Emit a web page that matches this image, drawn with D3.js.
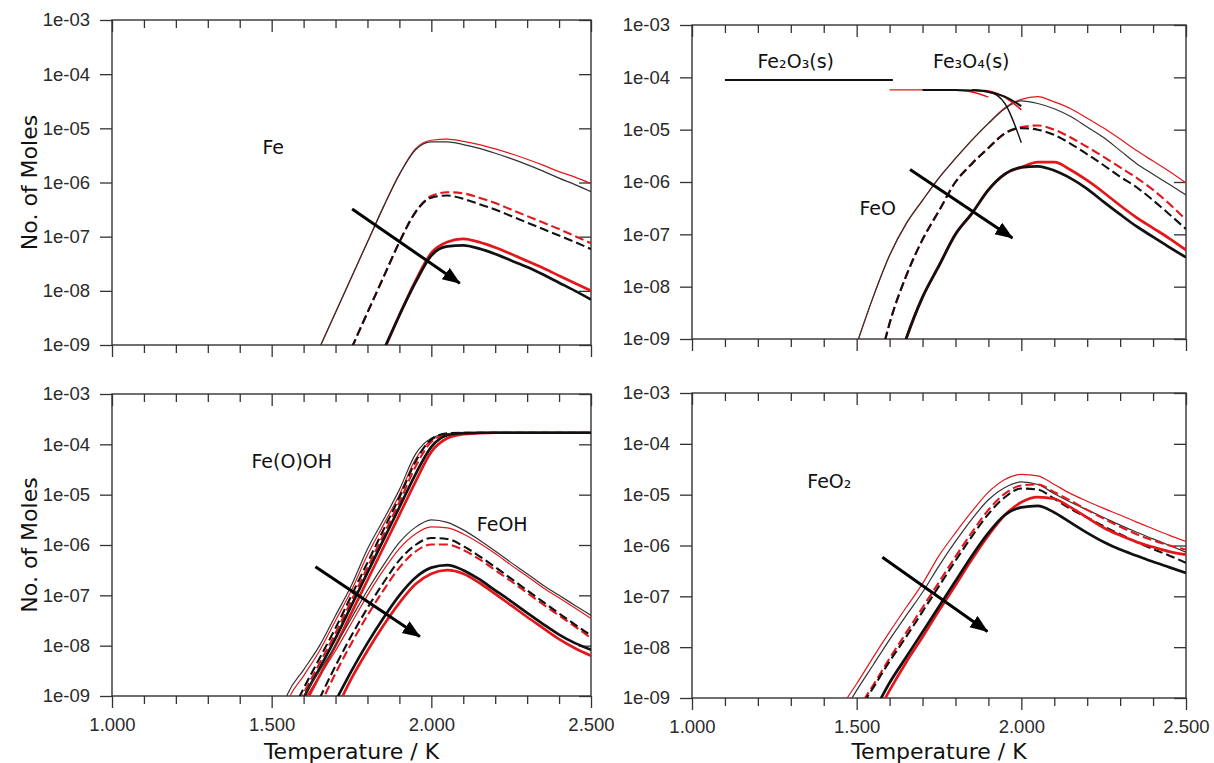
<!DOCTYPE html>
<html>
<head>
<meta charset="utf-8">
<title>Fe species vs temperature</title>
<script src="https://d3js.org/d3.v7.min.js"></script>
<style>
body { margin: 0; background: #fff; }
svg { font-family: "DejaVu Sans", Verdana, sans-serif; }
.axis text { font-size: 18.5px; fill: #2a2a2a; }
.axis line { stroke: #333; stroke-width: 1.3px; }
.axis .domain { display: none; }
.frame { fill: none; stroke: #333; stroke-width: 1.4px; }
.curve { fill: none; }
.title { font-size: 22px; fill: #111; }
.label { font-size: 19px; fill: #111; }
</style>
</head>
<body>
<script>

// Temperature grid (K) shared by all curves
var temps = [1450, 1500, 1550, 1600, 1650, 1700, 1750, 1800, 1850, 1900, 1950,
             2000, 2050, 2100, 2150, 2200, 2250, 2300, 2350, 2400, 2450, 2500];

// All values are log10(no. of moles). null = not plotted
// K = black, R = red; thin / dash / thick = the three line styles

// Fe
var feThinK  = [null,null,null,-9.7,-9.05,-8.4,-7.75,-7.1,-6.45,-5.85,-5.4,-5.25,-5.25,-5.3,-5.37,-5.46,-5.56,-5.67,-5.79,-5.92,-6.04,-6.17];
var feThinR  = [null,null,null,-9.7,-9.05,-8.4,-7.75,-7.1,-6.45,-5.85,-5.38,-5.22,-5.2,-5.24,-5.3,-5.38,-5.47,-5.57,-5.68,-5.8,-5.9,-6.02];
var feDashK  = [null,null,null,null,null,-9.7,-9.06,-8.4,-7.75,-7.1,-6.55,-6.28,-6.24,-6.3,-6.4,-6.5,-6.62,-6.74,-6.86,-6.98,-7.1,-7.23];
var feDashR  = [null,null,null,null,null,-9.7,-9.06,-8.4,-7.75,-7.1,-6.55,-6.25,-6.18,-6.2,-6.28,-6.38,-6.5,-6.62,-6.74,-6.86,-6.99,-7.12];
var feThickK = [null,null,null,null,null,null,null,-9.75,-9.1,-8.45,-7.85,-7.35,-7.18,-7.16,-7.22,-7.32,-7.44,-7.56,-7.7,-7.85,-8.0,-8.16];
var feThickR = [null,null,null,null,null,null,null,-9.8,-9.12,-8.45,-7.82,-7.3,-7.1,-7.04,-7.1,-7.2,-7.32,-7.45,-7.58,-7.72,-7.86,-8.0];

// FeO
var feoThinK  = [null,-9.1,-8.2,-7.4,-6.8,-6.35,-5.92,-5.55,-5.2,-4.88,-4.6,-4.45,-4.5,-4.6,-4.75,-4.95,-5.15,-5.4,-5.65,-5.85,-6.05,-6.25];
var feoThinR  = [null,-9.1,-8.2,-7.4,-6.8,-6.35,-5.92,-5.55,-5.2,-4.88,-4.58,-4.42,-4.37,-4.47,-4.6,-4.78,-4.97,-5.18,-5.4,-5.6,-5.8,-6.02];
var feoDashK  = [null,null,-10.0,-8.7,-7.8,-7.1,-6.55,-6.0,-5.65,-5.35,-5.07,-4.97,-5.0,-5.1,-5.27,-5.47,-5.68,-5.9,-6.1,-6.35,-6.62,-6.9];
var feoDashR  = [null,null,-10.0,-8.7,-7.8,-7.1,-6.55,-6.0,-5.65,-5.35,-5.07,-4.95,-4.92,-5.0,-5.15,-5.33,-5.52,-5.72,-5.92,-6.15,-6.42,-6.72];
var feoThickK = [null,null,null,-10.0,-9.0,-8.2,-7.6,-7.0,-6.6,-6.15,-5.85,-5.72,-5.7,-5.78,-5.93,-6.13,-6.38,-6.62,-6.85,-7.05,-7.25,-7.44];
var feoThickR = [null,null,null,-10.0,-9.0,-8.2,-7.6,-7.0,-6.6,-6.15,-5.85,-5.72,-5.62,-5.62,-5.77,-5.97,-6.2,-6.45,-6.68,-6.88,-7.08,-7.3];

// Fe2O3(s) and Fe3O4(s) branches in the FeO panel
var fe2o3Temps = [1100, 1610];
var fe2o3 = [-4.05, -4.05];
var fe3o4Temps = [1600, 1700, 1800, 1850, 1900, 1950, 2000];
var fe3o4A = [-4.24, -4.24, -4.25, -4.28, -4.38, null, null];
var fe3o4B = [null, -4.24, -4.24, -4.25, -4.28, -4.37, -4.55];
var fe3o4C = [null, null, null, -4.24, -4.27, -4.5, -5.25];
var fe3o4D = [null, null, null, -4.24, -4.26, -4.38, -4.62];

// Fe(O)OH
var feoohThinK  = [null,-10.0,-8.96,-8.48,-8.0,-7.4,-6.8,-6.08,-5.5,-4.9,-4.2,-3.88,-3.79,-3.77,-3.77,-3.77,-3.77,-3.77,-3.77,-3.77,-3.77,-3.77];
var feoohThinR  = [null,-10.2,-9.1,-8.6,-8.1,-7.5,-6.9,-6.2,-5.6,-5.0,-4.3,-3.92,-3.8,-3.77,-3.77,-3.77,-3.77,-3.77,-3.77,-3.77,-3.77,-3.77];
var feoohDashK  = [null,null,-9.5,-8.85,-8.25,-7.65,-7.0,-6.35,-5.7,-5.05,-4.35,-3.9,-3.78,-3.77,-3.77,-3.77,-3.77,-3.77,-3.77,-3.77,-3.77,-3.77];
var feoohDashR  = [null,null,-9.6,-8.95,-8.35,-7.75,-7.1,-6.45,-5.8,-5.15,-4.45,-3.95,-3.8,-3.77,-3.77,-3.77,-3.77,-3.77,-3.77,-3.77,-3.77,-3.77];
var feoohThickK = [null,null,-9.9,-9.05,-8.45,-7.85,-7.2,-6.55,-5.9,-5.25,-4.6,-4.05,-3.82,-3.78,-3.77,-3.77,-3.77,-3.77,-3.77,-3.77,-3.77,-3.77];
var feoohThickR = [null,null,null,-9.2,-8.6,-8.0,-7.35,-6.7,-6.05,-5.4,-4.75,-4.15,-3.88,-3.8,-3.78,-3.77,-3.77,-3.77,-3.77,-3.77,-3.77,-3.77];

// FeOH
var feohThinK  = [null,null,null,-9.0,-8.5,-8.0,-7.45,-6.9,-6.4,-5.95,-5.65,-5.5,-5.55,-5.7,-5.9,-6.12,-6.35,-6.57,-6.8,-7.0,-7.2,-7.4];
var feohThinR  = [null,null,null,-9.1,-8.6,-8.1,-7.55,-7.0,-6.5,-6.07,-5.78,-5.64,-5.66,-5.78,-5.96,-6.17,-6.4,-6.62,-6.85,-7.05,-7.25,-7.46];
var feohDashK  = [null,null,null,null,-9.05,-8.4,-7.8,-7.25,-6.75,-6.3,-6.0,-5.86,-5.88,-6.02,-6.22,-6.44,-6.67,-6.9,-7.13,-7.36,-7.58,-7.8];
var feohDashR  = [null,null,null,null,-9.2,-8.55,-7.95,-7.4,-6.9,-6.45,-6.13,-5.99,-5.99,-6.1,-6.28,-6.5,-6.72,-6.95,-7.18,-7.4,-7.62,-7.85];
var feohThickK = [null,null,null,null,null,-9.1,-8.5,-7.95,-7.45,-7.0,-6.65,-6.45,-6.4,-6.5,-6.68,-6.9,-7.12,-7.35,-7.57,-7.78,-7.95,-8.08];
var feohThickR = [null,null,null,null,null,-9.3,-8.65,-8.1,-7.6,-7.15,-6.78,-6.57,-6.5,-6.57,-6.75,-6.97,-7.2,-7.43,-7.65,-7.87,-8.05,-8.2];

// FeO2
var feo2ThinK  = [-9.4,-8.85,-8.35,-7.85,-7.38,-6.92,-6.4,-5.92,-5.48,-5.1,-4.86,-4.75,-4.8,-4.98,-5.15,-5.3,-5.45,-5.6,-5.74,-5.87,-6.0,-6.13];
var feo2ThinR  = [-9.2,-8.72,-8.2,-7.7,-7.22,-6.75,-6.2,-5.75,-5.33,-4.95,-4.7,-4.6,-4.63,-4.8,-4.98,-5.13,-5.27,-5.4,-5.54,-5.67,-5.8,-5.92];
var feo2DashK  = [null,-9.3,-8.8,-8.28,-7.8,-7.3,-6.8,-6.3,-5.82,-5.38,-5.05,-4.88,-4.9,-5.08,-5.28,-5.45,-5.62,-5.78,-5.93,-6.07,-6.2,-6.34];
var feo2DashR  = [null,-9.25,-8.75,-8.22,-7.72,-7.22,-6.72,-6.22,-5.74,-5.3,-4.98,-4.82,-4.8,-4.95,-5.12,-5.3,-5.47,-5.63,-5.78,-5.9,-6.0,-6.08];
var feo2ThickK = [null,null,-9.3,-8.7,-8.2,-7.7,-7.2,-6.7,-6.2,-5.75,-5.4,-5.25,-5.22,-5.35,-5.55,-5.75,-5.93,-6.08,-6.2,-6.32,-6.43,-6.54];
var feo2ThickR = [null,null,-9.45,-8.85,-8.3,-7.8,-7.28,-6.78,-6.27,-5.8,-5.4,-5.15,-5.05,-5.08,-5.25,-5.45,-5.65,-5.8,-5.93,-6.03,-6.12,-6.18];

// Arrows (start, end) as [T, log10 moles]
var arrowFe   = [[1752, -6.49], [2089, -7.86]];
var arrowFeO  = [[1662, -5.76], [1973, -7.07]];
var arrowFeOH = [[1637, -6.43], [1964, -7.82]];
var arrowFeO2 = [[1578, -6.23], [1897, -7.69]];

// Axis ticks
var yTicks = [-9, -8, -7, -6, -5, -4, -3];
var xMajor = [1000, 1500, 2000, 2500];
var xMinor = [1100, 1200, 1300, 1400, 1600, 1700, 1800, 1900, 2100, 2200, 2300, 2400];

var RED = "#e3171b", BLACK = "#111";
var styles = {
    thin:  { width: 1.2, dash: null },
    dash:  { width: 2.1, dash: "9,4" },
    thick: { width: 2.7, dash: null }
};

function sixCurves(thinK, thinR, dashK, dashR, thickK, thickR) {
    return [
        { v: thinR, c: RED, s: "thin" }, { v: thinK, c: "#333", s: "thin" },
        { v: dashR, c: RED, s: "dash" }, { v: dashK, c: BLACK, s: "dash" },
        { v: thickR, c: RED, s: "thick" }, { v: thickK, c: BLACK, s: "thick" }
    ];
}

var panels = [
    { left: 112, right: 591, top: 20, bottom: 345, xLabels: false, yTitle: true,
      series: sixCurves(feThinK, feThinR, feDashK, feDashR, feThickK, feThickR),
      labels: [{ t: 1505, v: -5.47, text: "Fe" }],
      arrow: arrowFe },
    { left: 692, right: 1186, top: 25, bottom: 339, xLabels: false, yTitle: false,
      series: sixCurves(feoThinK, feoThinR, feoDashK, feoDashR, feoThickK, feoThickR),
      extra: [
        { x: fe2o3Temps, v: fe2o3, c: BLACK, w: 2 },
        { x: fe3o4Temps, v: fe3o4A, c: RED, w: 1.3 },
        { x: fe3o4Temps, v: fe3o4D, c: RED, w: 1.6 },
        { x: fe3o4Temps, v: fe3o4B, c: BLACK, w: 2 },
        { x: fe3o4Temps, v: fe3o4C, c: BLACK, w: 1.4 }
      ],
      labels: [{ t: 1315, v: -3.83, text: "Fe\u2082O\u2083(s)" },
               { t: 1848, v: -3.83, text: "Fe\u2083O\u2084(s)" },
               { t: 1564, v: -6.63, text: "FeO" }],
      arrow: arrowFeO },
    { left: 112, right: 591, top: 394, bottom: 696, xLabels: true, yTitle: true,
      series: sixCurves(feoohThinK, feoohThinR, feoohDashK, feoohDashR, feoohThickK, feoohThickR)
        .concat(sixCurves(feohThinK, feohThinR, feohDashK, feohDashR, feohThickK, feohThickR)),
      labels: [{ t: 1563, v: -4.48, text: "Fe(O)OH" },
               { t: 2222, v: -5.72, text: "FeOH" }],
      arrow: arrowFeOH },
    { left: 692, right: 1186, top: 393, bottom: 698, xLabels: true, yTitle: false,
      series: sixCurves(feo2ThinK, feo2ThinR, feo2DashK, feo2DashR, feo2ThickK, feo2ThickR),
      labels: [{ t: 1417, v: -4.87, text: "FeO\u2082" }],
      arrow: arrowFeO2 }
];

var width = 1214, height = 763;

var svg = d3.select("body").append("svg")
    .attr("width", width)
    .attr("height", height);

var defs = svg.append("defs");
defs.append("marker")
    .attr("id", "arrowhead")
    .attr("markerUnits", "userSpaceOnUse")
    .attr("markerWidth", 20)
    .attr("markerHeight", 16)
    .attr("refX", 17)
    .attr("refY", 7)
    .attr("orient", "auto")
  .append("path")
    .attr("d", "M0,0 L18,7 L0,14 Z")
    .attr("fill", "#000");

var dotThousands = d3.formatLocale({ decimal: ",", thousands: ".", grouping: [3], currency: ["", ""] }).format(",");

panels.forEach(function(p, i) {
    var x = d3.scaleLinear().domain([1000, 2500]).range([p.left, p.right]);
    var y = d3.scaleLinear().domain([-9, -3]).range([p.bottom, p.top]);

    var g = svg.append("g").attr("class", "panel");

    defs.append("clipPath").attr("id", "clip" + i)
      .append("rect")
        .attr("x", p.left).attr("y", p.top)
        .attr("width", p.right - p.left).attr("height", p.bottom - p.top);

    // axes: left labelled, right/top ticks inward
    g.append("g").attr("class", "axis")
        .attr("transform", "translate(" + p.left + ",0)")
        .call(d3.axisLeft(y).tickValues(yTicks).tickSize(12).tickPadding(10)
            .tickFormat(function(d) { return "1e-0" + (-d); }));
    g.append("g").attr("class", "axis")
        .attr("transform", "translate(" + p.right + ",0)")
        .call(d3.axisRight(y).tickValues(yTicks).tickSize(-12).tickFormat(""));

    g.append("g").attr("class", "axis")
        .attr("transform", "translate(0," + p.bottom + ")")
        .call(d3.axisBottom(x).tickValues(xMinor).tickSize(8).tickFormat(""));
    g.append("g").attr("class", "axis")
        .attr("transform", "translate(0," + p.bottom + ")")
        .call(d3.axisBottom(x).tickValues(xMajor).tickSize(12).tickPadding(10)
            .tickFormat(p.xLabels ? dotThousands : ""));

    g.append("g").attr("class", "axis")
        .attr("transform", "translate(0," + p.top + ")")
        .call(d3.axisTop(x).tickValues(xMinor).tickSize(-8).tickFormat(""));
    g.append("g").attr("class", "axis")
        .attr("transform", "translate(0," + p.top + ")")
        .call(d3.axisTop(x).tickValues(xMajor).tickSize(-12).tickFormat(""));

    g.append("rect").attr("class", "frame")
        .attr("x", p.left).attr("y", p.top)
        .attr("width", p.right - p.left).attr("height", p.bottom - p.top);

    // curves
    var plot = g.append("g").attr("clip-path", "url(#clip" + i + ")");

    var line = d3.line()
        .defined(function(d) { return d[1] != null; })
        .x(function(d) { return x(d[0]); })
        .y(function(d) { return y(d[1]); })
        .curve(d3.curveMonotoneX);

    plot.selectAll(".curve")
        .data(p.series)
        .enter().append("path")
        .attr("class", "curve")
        .attr("d", function(s) { return line(d3.zip(temps, s.v)); })
        .attr("stroke", function(s) { return s.c; })
        .attr("stroke-width", function(s) { return styles[s.s].width; })
        .attr("stroke-dasharray", function(s) { return styles[s.s].dash; });

    if (p.extra) {
        plot.selectAll(".extra")
            .data(p.extra)
            .enter().append("path")
            .attr("class", "curve extra")
            .attr("d", function(s) { return line(d3.zip(s.x, s.v)); })
            .attr("stroke", function(s) { return s.c; })
            .attr("stroke-width", function(s) { return s.w; });
    }

    // arrow
    g.append("line")
        .attr("x1", x(p.arrow[0][0])).attr("y1", y(p.arrow[0][1]))
        .attr("x2", x(p.arrow[1][0])).attr("y2", y(p.arrow[1][1]))
        .attr("stroke", "#000")
        .attr("stroke-width", 3)
        .attr("marker-end", "url(#arrowhead)");

    // species labels
    g.selectAll(".label")
        .data(p.labels)
        .enter().append("text")
        .attr("class", "label")
        .attr("x", function(d) { return x(d.t); })
        .attr("y", function(d) { return y(d.v); })
        .attr("text-anchor", "middle")
        .text(function(d) { return d.text; });

    if (p.xLabels) {
        g.append("text").attr("class", "title")
            .attr("x", (p.left + p.right) / 2)
            .attr("y", 759)
            .attr("text-anchor", "middle")
            .text("Temperature / K");
    }
    if (p.yTitle) {
        g.append("text").attr("class", "title")
            .attr("transform", "translate(37," + ((p.top + p.bottom) / 2) + ") rotate(-90)")
            .attr("text-anchor", "middle")
            .text("No. of Moles");
    }
});

</script>
</body>
</html>
